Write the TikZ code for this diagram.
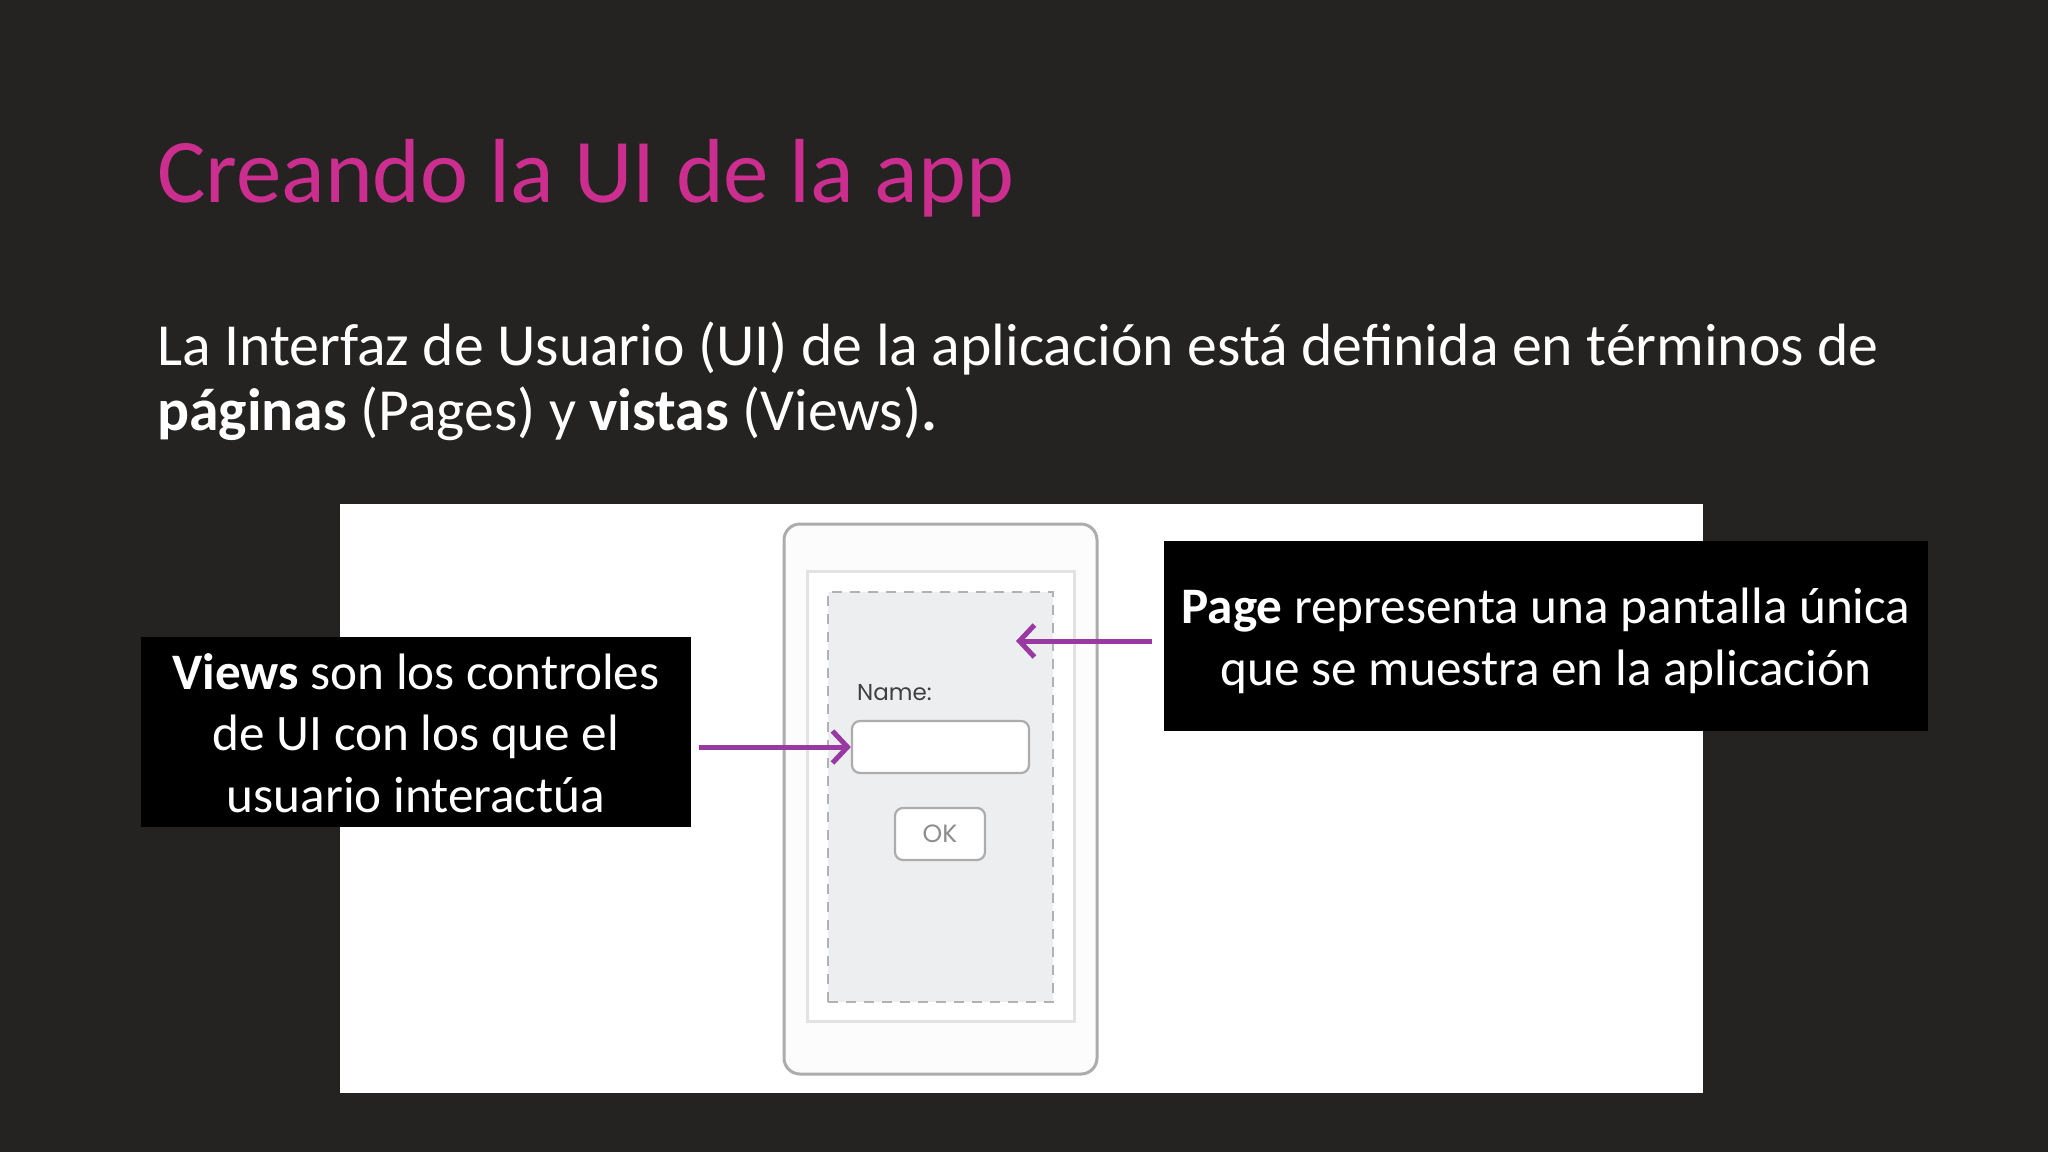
\documentclass[tikz,border=0pt]{standalone}
\usepackage{fontspec}
\setmainfont{Carlito}
\newfontfamily\uifont{Poppins}
\usetikzlibrary{arrows.meta}
\definecolor{bg}{RGB}{36,35,33}
\definecolor{titlemag}{RGB}{203,46,142}
\definecolor{arrowpurple}{RGB}{152,58,162}
\definecolor{framegray}{RGB}{172,172,172}
\definecolor{innergray}{RGB}{226,226,228}
\definecolor{pagefill}{RGB}{236,238,240}
\definecolor{dashgray}{RGB}{178,178,180}
\begin{document}
\begin{tikzpicture}[x=1pt,y=-1pt,
  bodytext/.style={anchor=base west, inner sep=0pt, text=white, font=\fontsize{59.7}{65.5}\selectfont},
  blackbox/.style={fill=black, inner sep=0pt},
  boxtext/.style={inner sep=0pt, text=white, align=center, font=\fontsize{51.2}{61.4}\selectfont},
  uibox/.style={draw=framegray, line width=2.2pt, fill=white, rounded corners=8pt, inner sep=0pt},
  pointer/.style={draw=arrowpurple, line width=5pt, -{Straight Barb[length=15pt,width=32pt]}}
]
\useasboundingbox[fill=bg] (0,0) rectangle (2048,1152);

% title and body
\node[anchor=base west, inner sep=0pt, text=titlemag, font=\fontsize{91}{110}\selectfont] (title) at (157,202) {Creando la UI de la app};
\node[bodytext] (line1) at (157,365) {La Interfaz de Usuario (UI) de la aplicación está definida en términos de};
\node[bodytext] (line2) at (157,430) {\textbf{páginas} (Pages) y \textbf{vistas} (Views)\textbf{.}};

% white panel
\node[fill=white, inner sep=0pt, minimum width=1363pt, minimum height=589pt] (panel) at (1021.5,798.5) {};

% phone mock-up
\node[draw=framegray, line width=3pt, fill=white!98!gray, rounded corners=16pt, inner sep=0pt, minimum width=313pt, minimum height=550pt] (phone) at (940.5,799) {};
\node[draw=innergray, line width=3pt, fill=white, inner sep=0pt, minimum width=267pt, minimum height=450pt] (screen) at (940.5,796) {};
\node[draw=dashgray, line width=2.5pt, dash pattern=on 10pt off 8pt, fill=pagefill, inner sep=0pt, minimum width=225pt, minimum height=410pt] (page) at (940.5,797) {};
\node[anchor=base west, inner sep=0pt, text=black!75, font=\uifont\fontsize{23}{28}\selectfont] (namelbl) at (857,700) {Name:};
\node[uibox, minimum width=177pt, minimum height=52pt] (field) at (940.5,747) {};
\node[uibox, minimum width=90pt, minimum height=52pt, text=black!45, font=\uifont\fontsize{25}{30}\selectfont] (okbtn) at (940,834) {OK};
\coordinate (pagept) at (1016,641);

% callout boxes
\node[blackbox, minimum width=550pt, minimum height=190pt] (viewsbox) at (416,732) {};
\node[boxtext] (viewstext) at (416,733)
  {\textbf{Views} son los controles\\de UI con los que el\\usuario interactúa};
\node[blackbox, minimum width=764pt, minimum height=190pt] (pagebox) at (1546,636) {};
\node[boxtext] (pagetext) at (1546,641)
  {\textbf{Page} representa una pantalla única\\que se muestra en la aplicación};

% pointers
\draw[pointer, shorten <=8pt] (viewsbox.east |- field.west) -- (field.west);
\draw[pointer, shorten <=12pt] (pagebox.west |- pagept) -- (pagept);
\end{tikzpicture}
\end{document}
